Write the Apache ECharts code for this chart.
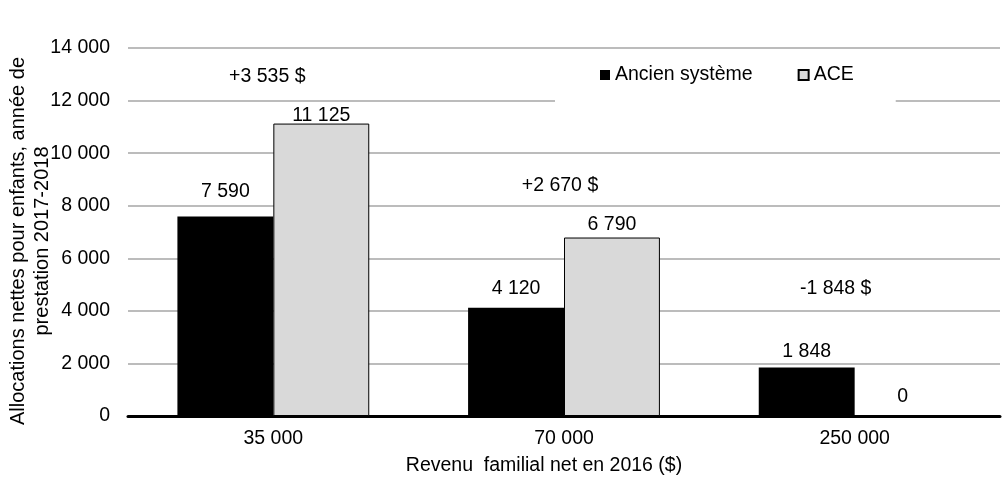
<!DOCTYPE html>
<html>
<head>
<meta charset="utf-8">
<script src="https://cdn.jsdelivr.net/npm/echarts@6/dist/echarts.min.js"></script>
<style>html,body{margin:0;padding:0;background:#fff;}#c{width:1008px;height:485px;}</style>
</head>
<body>
<div id="c"></div>
<script>
const categories = ['35 000', '70 000', '250 000'];
const ancienSysteme = [7590, 4120, 1848];
const ace = [11125, 6790, 0];
const diffLabels = ['+3 535 $', '+2 670 $', '-1 848 $'];
const diffLabelY = [12900, 8780, 4850];
const yTicks = [0, 2000, 4000, 6000, 8000, 10000, 12000, 14000];

function fmt(v) {
  return String(v).replace(/\B(?=(\d{3})+(?!\d))/g, ' ');
}

const FONT = 'Liberation Sans, Arial, sans-serif';
const FS = 19.5;
// label styling (placement tweaks as in the original)
const diffOffsets = [[-6, 0], [-4, 0], [-19, 0]];
const ancienLabelDist = [15, 9, 6];
const aceLabelDist = [-2, 3, 9];

const chart = echarts.init(document.getElementById('c'), null, {renderer: 'canvas'});
chart.setOption({
  animation: false,
  backgroundColor: '#fff',
  textStyle: {fontFamily: FONT, color: '#000'},
  grid: {left: 128, right: 8, top: 48, bottom: 69, containLabel: false, outerBoundsMode: 'none'},
  legend: {
    data: ['Ancien système', 'ACE'],
    left: 555,
    top: 55,
    padding: [10, 42, 27, 45],
    backgroundColor: '#fff',
    itemWidth: 10,
    itemHeight: 10,
    itemGap: 45,
    icon: 'rect',
    textStyle: {fontFamily: FONT, fontSize: FS, color: '#000'}
  },
  xAxis: {
    type: 'category',
    data: categories,
    name: 'Revenu  familial net en 2016 ($)',
    nameLocation: 'middle',
    nameGap: 40,
    nameMoveOverlap: false,
    nameTextStyle: {fontFamily: FONT, fontSize: FS, color: '#000', padding: [0, 40, 0, 0]},
    axisLine: {lineStyle: {color: '#000', width: 3}},
    axisTick: {show: false},
    axisLabel: {fontFamily: FONT, fontSize: FS, color: '#000', margin: 13}
  },
  yAxis: {
    type: 'value',
    min: yTicks[0],
    max: yTicks[yTicks.length - 1],
    interval: 2000,
    name: 'Allocations nettes pour enfants, année de\nprestation 2017-2018',
    nameLocation: 'middle',
    nameGap: 74,
    nameMoveOverlap: false,
    nameTextStyle: {fontFamily: FONT, fontSize: 20, color: '#000', lineHeight: 24, padding: [0, 0, 0, -18]},
    axisLine: {show: false},
    axisTick: {show: false},
    splitLine: {lineStyle: {color: '#a6a6a6', width: 1.5}},
    axisLabel: {fontFamily: FONT, fontSize: FS, color: '#000', margin: 18, formatter: v => fmt(v)}
  },
  series: [
    {
      name: 'Ancien système',
      type: 'bar',
      data: ancienSysteme.map((v, i) => ({value: v, label: {distance: ancienLabelDist[i]}})),
      barWidth: '33%',
      barGap: '0%',
      itemStyle: {color: '#000'},
      label: {show: true, position: 'top', fontFamily: FONT, fontSize: FS, color: '#000', formatter: p => fmt(p.value)}
    },
    {
      name: 'ACE',
      type: 'bar',
      data: ace.map((v, i) => ({value: v, label: {distance: aceLabelDist[i]}})),
      barWidth: '33%',
      barGap: '0%',
      itemStyle: {color: '#d9d9d9', borderColor: '#000', borderWidth: 1},
      label: {show: true, position: 'top', fontFamily: FONT, fontSize: FS, color: '#000',
        formatter: p => fmt(p.value)},
      z: 3
    },
    {
      name: 'diff',
      type: 'scatter',
      symbolSize: 0,
      silent: true,
      itemStyle: {opacity: 1},
      data: diffLabelY.map((v, i) => ({
        value: [categories[i], v],
        label: {offset: diffOffsets[i]}
      })),
      label: {
        show: true,
        position: 'inside',
        fontFamily: FONT,
        fontSize: FS,
        color: '#000',
        opacity: 1,
        formatter: p => diffLabels[p.dataIndex]
      },
      z: 5
    }
  ]
});
</script>
</body>
</html>
